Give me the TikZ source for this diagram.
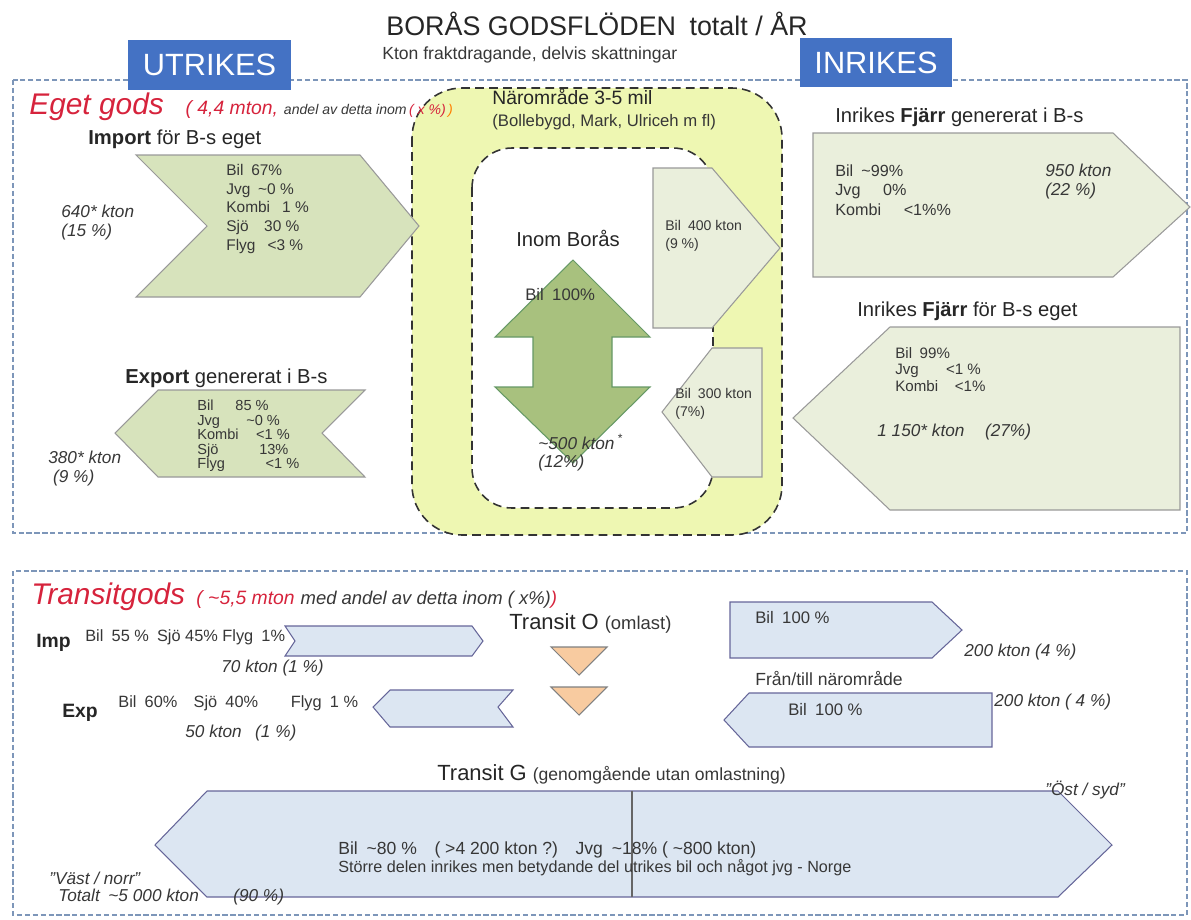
\documentclass[tikz,border=0pt]{standalone}
\usepackage{fontspec}
\setmainfont{Liberation Sans}
\usetikzlibrary{positioning}
\definecolor{tagblue}{RGB}{68,114,196}
\definecolor{palegreen}{RGB}{215,227,188}
\definecolor{deepgreen}{RGB}{168,193,126}
\definecolor{greygreen}{RGB}{234,239,220}
\definecolor{zoneyellow}{RGB}{238,247,178}
\definecolor{paleblue}{RGB}{220,230,242}
\definecolor{peach}{RGB}{248,203,160}
\definecolor{eggred}{RGB}{214,35,60}
\definecolor{framecol}{RGB}{125,150,185}
\definecolor{inkgrey}{RGB}{55,55,55}
\newcommand{\apx}{\textasciitilde}

\begin{document}
\begin{tikzpicture}
[x=0.02cm,y=-0.02cm,
inner sep=0pt,
text=inkgrey,
title/.style={font=\fontsize{15.3}{18}\selectfont,text=black!85},
subtitle/.style={font=\fontsize{10}{12}\selectfont},
tag/.style={fill=tagblue,text=white,font=\fontsize{17.5}{20}\selectfont},
bigred/.style={font=\fontsize{17}{20}\selectfont\itshape,text=eggred},
redsmall/.style={font=\fontsize{11}{13}\selectfont\itshape,text=eggred},
note/.style={font=\fontsize{8}{9}\selectfont\itshape,text=inkgrey},
head/.style={font=\fontsize{11.5}{14}\selectfont,text=black!85},
data/.style={font=\fontsize{8.8}{10.6}\selectfont,align=left,anchor=north west},
qty/.style={font=\fontsize{9.8}{10.5}\selectfont\itshape,align=left,anchor=north west},
frame/.style={draw=framecol,dash pattern=on 3pt off 1.5pt,line width=0.6pt},
zone/.style={draw=black!80,dash pattern=on 5pt off 3pt,line width=0.9pt},
greenarrow/.style={draw=gray!80,fill=palegreen,line width=0.6pt},
lightarrow/.style={draw=gray!80,fill=greygreen,line width=0.6pt},
bluearrow/.style={draw=gray!80!blue,fill=paleblue,line width=0.6pt},
drop/.style={draw=gray,fill=peach,line width=0.6pt}]
\useasboundingbox (0,0) rectangle (1191,920);

% header
\node[title] (title) at (597,24) {BORÅS GODSFLÖDEN\enspace totalt / ÅR};
\node[subtitle,anchor=west] (subtitle) at (382,55) {Kton fraktdragande, delvis skattningar};

% frames and zone
\draw[frame] (13,80) rectangle (1187,533);
\draw[frame] (13,571) rectangle (1187,915);
\draw[zone,fill=zoneyellow,rounded corners=1cm] (412,88) rectangle (782,535);
\draw[zone,fill=white,rounded corners=0.8cm] (472,148) rectangle (713,508);
\node[tag,minimum width=3.26cm,minimum height=1cm] (utrikes) at (209.5,65) {UTRIKES};
\node[tag,minimum width=3.04cm,minimum height=0.98cm] (inrikes) at (876,62.5) {INRIKES};

% eget gods
\node[bigred,anchor=base west] (eget) at (29,114) {Eget gods};
\node[redsmall,base right=12pt of eget] (eget mton) {( 4,4 mton,};
\node[note,base right=3pt of eget mton] (eget andel) {andel av detta inom};
\node[redsmall,font=\fontsize{8}{9}\selectfont\itshape,base right=1pt of eget andel] (eget x) {( x \%)\,\textcolor{orange}{)}};

% import
\node[head,anchor=base west] (import title) at (88,144) {\textbf{Import} för B-s eget};
\draw[greenarrow] (136,155) -- (360,155) -- (419,226) -- (360,297) -- (136,297) -- (207,226) -- cycle;
\node[data] (import data) at (226,164) {Bil\enspace 67\%\\Jvg\enspace \apx0 \%\\Kombi\enspace\ 1 \%\\Sjö\enspace\enspace 30 \%\\Flyg\enspace\ <3 \%};
\node[qty] (import qty) at (61,205) {640* kton\\(15 \%)};

% export
\node[head,anchor=base west] (export title) at (125,383) {\textbf{Export} genererat i B-s};
\draw[greenarrow] (115,433) -- (158,390) -- (365,390) -- (322,433) -- (365,477) -- (158,477) -- cycle;
\node[data,font=\fontsize{8.3}{8.2}\selectfont] (export data) at (197,400) {Bil\hspace{1.5em}85 \%\\Jvg\hspace{1.8em}\apx0 \%\\Kombi\hspace{1.2em}<1 \%\\Sjö\hspace{2.8em}13\%\\Flyg\hspace{2.8em}<1 \%};
\node[qty] (export qty) at (48,451) {380* kton\\\ (9 \%)};

% naromrade
\node[head,font=\fontsize{11}{13}\selectfont,anchor=west] (naromrade) at (492,97) {Närområde 3-5 mil};
\node[subtitle,font=\fontsize{9.5}{11}\selectfont,anchor=west] (naromrade towns) at (492,122) {(Bollebygd, Mark, Ulriceh m fl)};
\node[head,font=\fontsize{11.5}{13}\selectfont] (inom) at (568,238) {Inom Borås};
\draw[draw=gray!80!green,fill=deepgreen,line width=0.6pt] (573,260) -- (650,337) -- (612,337) -- (612,387) -- (650,387) -- (573,463) -- (495,387) -- (533,387) -- (533,337) -- (495,337) -- cycle;
\node[data,font=\fontsize{9.5}{10}\selectfont,anchor=west] (inom bil) at (525,295) {Bil\enspace 100\%};
\node[qty] (inom qty) at (538,434) {\apx500 kton\,\textsuperscript{*}\\(12\%)};
\draw[lightarrow] (653,168) -- (712,168) -- (780,248) -- (712,328) -- (653,328) -- cycle;
\node[data,font=\fontsize{8}{10}\selectfont] (out near) at (665,220) {Bil\enspace 400 kton\\(9 \%)};
\draw[lightarrow] (712,348) -- (762,348) -- (762,477) -- (712,477) -- (662,412) -- cycle;
\node[data,font=\fontsize{8}{10}\selectfont] (in near) at (675,388) {Bil\enspace 300 kton\\(7\%)};

% inrikes fjarr
\node[head,anchor=west] (fjarr out title) at (835,117) {Inrikes \textbf{Fjärr} genererat i B-s};
\draw[lightarrow] (813,133) -- (1113,133) -- (1190,207) -- (1113,277) -- (813,277) -- cycle;
\node[data,font=\fontsize{9.2}{11.3}\selectfont] (fjarr out data) at (835,164) {Bil\enspace \apx99\%\\Jvg\hspace{1.4em}0\%\\Kombi\hspace{1.4em}<1\%\%};
\node[qty] (fjarr out qty) at (1045,164) {950 kton\\(22 \%)};
\node[head,anchor=west] (fjarr in title) at (857,311) {Inrikes \textbf{Fjärr} för B-s eget};
\draw[lightarrow] (793,418) -- (890,327) -- (1180,327) -- (1180,510) -- (890,510) -- cycle;
\node[data,font=\fontsize{8.6}{9.4}\selectfont] (fjarr in data) at (895,347) {Bil\enspace 99\%\\Jvg\hspace{1.8em}<1 \%\\Kombi\hspace{1.1em}<1\%};
\node[qty,anchor=west] (fjarr in qty) at (877,432) {1 150* kton\hspace{1.2em}(27\%)};

% transitgods
\node[bigred,anchor=base west] (transit) at (31,604) {Transitgods};
\node[redsmall,base right=6pt of transit] (transit mton) {( \apx5,5 mton};
\node[note,font=\fontsize{10.5}{12}\selectfont\itshape,base right=3pt of transit mton] (transit andel) {med andel av detta inom ( x\%)\textcolor{eggred}{)}};
\node[head,font=\fontsize{12.5}{14}\selectfont,anchor=west] (transit o) at (509,622) {Transit O};
\node[subtitle,font=\fontsize{10.5}{12}\selectfont,base right=3pt of transit o] (omlast) {(omlast)};

\node[head,font=\fontsize{11}{13}\selectfont\bfseries,anchor=west] (imp) at (36,643) {Imp};
\node[data,font=\fontsize{9.3}{11}\selectfont,anchor=west] (imp data) at (85,637) {Bil\enspace 55 \%\enspace Sjö 45\%\ Flyg\enspace 1\%};
\draw[bluearrow] (285,626) -- (472,626) -- (483,641) -- (472,656) -- (285,656) -- (295,641) -- cycle;
\node[qty,anchor=west] (imp qty) at (221,668) {70 kton (1 \%)};
\node[head,font=\fontsize{11}{13}\selectfont\bfseries,anchor=west] (exp) at (62,713) {Exp};
\node[data,font=\fontsize{9.3}{11}\selectfont,anchor=west] (exp data) at (118,703) {Bil\enspace 60\%\enspace\enspace Sjö\enspace 40\%\hspace{2em}Flyg\enspace 1 \%};
\draw[bluearrow] (373,707) -- (390,690) -- (513,690) -- (498,707) -- (513,727) -- (390,727) -- cycle;
\node[qty,anchor=west] (exp qty) at (185,733) {50 kton\enspace\ (1 \%)};
\draw[drop] (551,647) -- (607,647) -- (579,675) -- cycle;
\draw[drop] (551,687) -- (607,687) -- (579,715) -- cycle;

\draw[bluearrow] (730,602) -- (932,602) -- (962,630) -- (932,658) -- (730,658) -- cycle;
\node[data,font=\fontsize{9.5}{10}\selectfont,anchor=west] (near out) at (755,618) {Bil\enspace 100 \%};
\node[qty,anchor=west] (near out qty) at (964,652) {200 kton (4 \%)};
\node[subtitle,anchor=west] (fran till) at (755,678) {Från/till närområde};
\draw[bluearrow] (724,720) -- (749,693) -- (992,693) -- (992,747) -- (749,747) -- cycle;
\node[data,font=\fontsize{9.5}{10}\selectfont,anchor=west] (near in) at (788,710) {Bil\enspace 100 \%};
\node[qty,anchor=west] (near in qty) at (994,702) {200 kton ( 4 \%)};

% transit G
\node[head,font=\fontsize{12.5}{14}\selectfont,anchor=west] (transit g) at (437,773) {Transit G};
\node[subtitle,font=\fontsize{10}{12}\selectfont,base right=3pt of transit g] (genom) {(genomgående utan omlastning)};
\draw[bluearrow] (155,845) -- (207,791) -- (1058,791) -- (1112,845) -- (1058,897) -- (207,897) -- cycle;
\draw[gray!80!black,line width=0.6pt] (632,791) -- (632,897);
\node[data,font=\fontsize{10}{11}\selectfont,anchor=west] (transit g bil) at (338,850) {Bil\enspace \apx80 \%\enspace\enspace ( >4 200 kton ?)\enspace\enspace Jvg\enspace \apx18\% ( \apx800 kton)};
\node[data,font=\fontsize{9.2}{10}\selectfont,anchor=west] (transit g note) at (338,868) {Större delen inrikes men betydande del utrikes bil och något jvg - Norge};
\node[qty,anchor=west] (ost) at (1045,790) {"Öst / syd"};
\node[qty,anchor=west] (vast) at (49,878) {"Väst / norr"};
\node[qty,anchor=west] (totalt) at (58,897) {Totalt\enspace \apx5 000 kton\hspace{2em}(90 \%)};
\end{tikzpicture}
\end{document}
